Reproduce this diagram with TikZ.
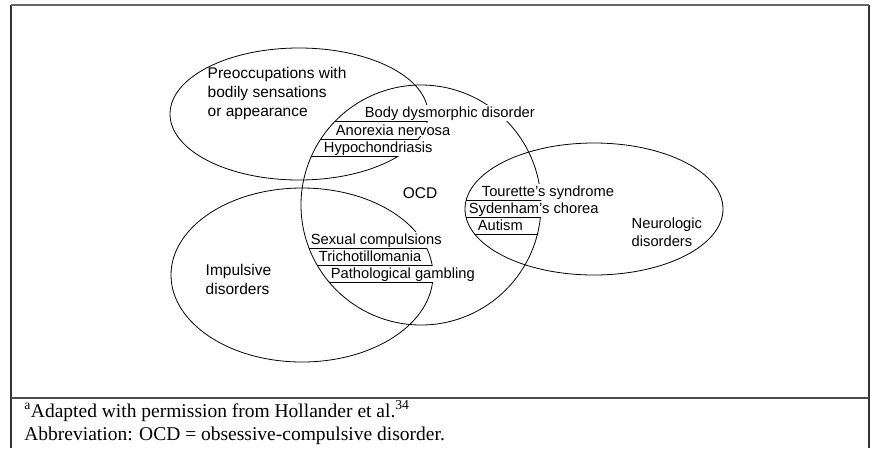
\documentclass[tikz,border=0pt]{standalone}
\usepackage{fontspec}
\setmainfont{Liberation Serif}
\setsansfont{Liberation Sans}
\usepackage{tikz}
\usetikzlibrary{positioning}

\begin{document}
\begin{tikzpicture}[x=1pt, y=-1pt,
    line width=0.8pt,
       item/.style = {fill=white, inner xsep=0.5pt, inner ysep=1pt, anchor=base west,
                      font=\sffamily\fontsize{14.7}{18}\selectfont},% labels in the overlaps
       group/.style = {align=left, anchor=west,
                      font=\sffamily\fontsize{15.5}{19}\selectfont},% names of the sets
       frame/.style = {line width=1.4pt, black!80}% box round the figure
    ]
    \useasboundingbox (0,0) rectangle (872,448);
    % frame and footnote
    \draw[frame] (11,448) -- (11,4.5) (869,4.5) -- (869,448);
    \draw[frame, line width=2pt, black!60] (11,4.5) -- (869,4.5);
    \draw[frame, black!70] (11,398) -- (869,398);
    \node (foot) [anchor=west, align=left, inner sep=0pt,
        font=\fontsize{19.5}{23.5}\selectfont] at (24,423)
        {\textsuperscript{a}Adapted with permission from Hollander et al.\textsuperscript{34}\\
         Abbreviation: OCD = obsessive-compulsive disorder.};
    % the four sets
    \coordinate (prc) at (299,114);
    \coordinate (ocd) at (421,205);
    \coordinate (neu) at (594,209);
    \coordinate (imp) at (302,275);
    \draw (prc) ellipse [x radius=129pt, y radius=66pt];
    \draw (ocd) circle [radius=120pt];
    \draw (neu) ellipse [x radius=129pt, y radius=66pt];
    \draw (imp) ellipse [x radius=131pt, y radius=87pt];
    \node (prcl) [group] at (204,93) {Preoccupations with\\bodily sensations\\or appearance};
    \node (ocdl) [group, anchor=center] at (420,193) {OCD};
    \node (neul) [group, font=\sffamily\fontsize{14.7}{18.5}\selectfont] at (628,232)
        {Neurologic\\disorders};
    \node (impl) [group] at (202,279) {Impulsive\\disorders};
    % overlap labels
    \node (bdd) [item] at (364,117) {Body dysmorphic disorder};
    \node (anx) [item] at (335,135) {Anorexia nervosa};
    \node (hyp) [item] at (323,152) {Hypochondriasis};
    \node (tou) [item] at (481,196) {Tourette's syndrome};
    \node (syd) [item] at (468,213) {Sydenham's chorea};
    \node (aut) [item] at (477,230) {Autism};
    \node (sex) [item] at (310,244) {Sexual compulsions};
    \node (tri) [item] at (318,261) {Trichotillomania};
    \node (pat) [item] at (330,278) {Pathological gambling};
    % underlines, cut at the two sets
    \begin{scope}
        \clip (ocd) circle [radius=120pt];
        \clip (prc) ellipse [x radius=129pt, y radius=66pt];
        \foreach \n in {bdd, anx, hyp}
            \draw (\n.base) ++(-200,4) -- ++(400,0);
    \end{scope}
    \begin{scope}
        \clip (ocd) circle [radius=120pt];
        \clip (neu) ellipse [x radius=129pt, y radius=66pt];
        \foreach \n in {tou, syd, aut}
            \draw (\n.base) ++(-200,4) -- ++(400,0);
    \end{scope}
    \begin{scope}
        \clip (ocd) circle [radius=120pt];
        \clip (imp) ellipse [x radius=131pt, y radius=87pt];
        \foreach \n in {sex, tri, pat}
            \draw (\n.base) ++(-200,4) -- ++(400,0);
    \end{scope}
\end{tikzpicture}
\end{document}
